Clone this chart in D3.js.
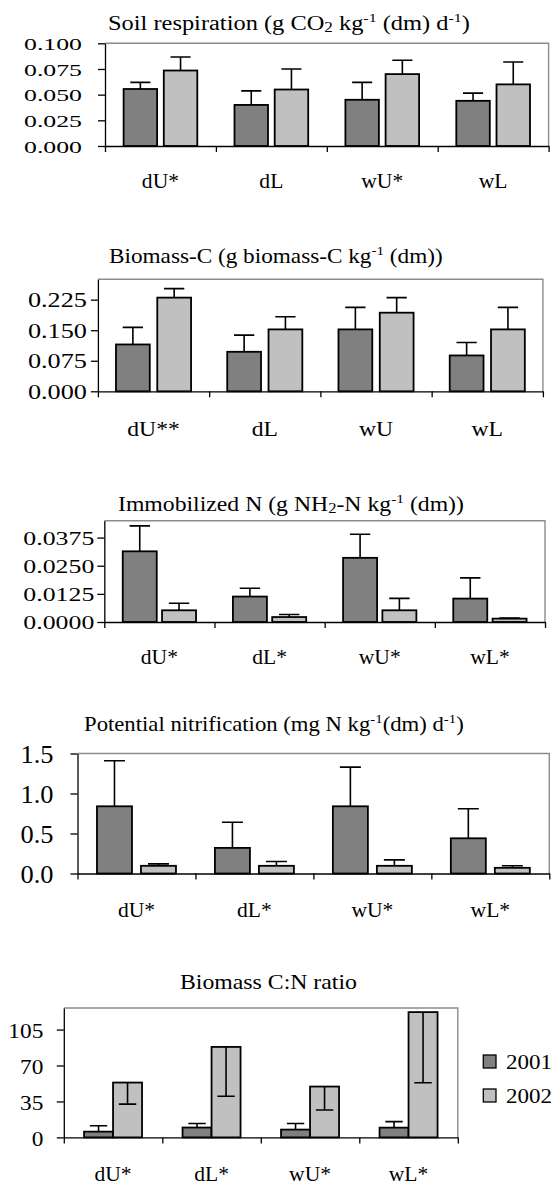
<!DOCTYPE html>
<html><head><meta charset="utf-8">
<script src="https://cdn.jsdelivr.net/npm/d3@7"></script>
<style>
body{margin:0;background:#fff}
svg{display:block}
svg text{font-family:"Liberation Serif","DejaVu Serif",serif;fill:#000}
</style>
</head><body>
<svg id="c" width="557" height="1190"></svg>
<script>
// ---------- DATA ----------
const seriesNames = ["2001", "2002"];

const respCategories = ["dU*", "dL", "wU*", "wL"];
const resp2001 = [0.0555, 0.040, 0.045, 0.044];
const resp2002 = [0.0735, 0.055, 0.070, 0.060];
const respErr2001 = [0.0065, 0.0137, 0.017, 0.0075];
const respErr2002 = [0.0132, 0.020, 0.0135, 0.0218];
const respTicks = [0, 0.025, 0.05, 0.075, 0.1];
const respMax = 0.1;

const bioCCategories = ["dU**", "dL", "wU", "wL"];
const bioC2001 = [0.115, 0.097, 0.152, 0.088];
const bioC2002 = [0.230, 0.152, 0.193, 0.152];
const bioCErr2001 = [0.042, 0.041, 0.054, 0.032];
const bioCErr2002 = [0.022, 0.031, 0.037, 0.054];
const bioCTicks = [0, 0.075, 0.15, 0.225];
const bioCMax = 0.275;

const immNCategories = ["dU*", "dL*", "wU*", "wL*"];
const immN2001 = [0.0314, 0.0113, 0.0285, 0.0104];
const immN2002 = [0.0052, 0.0022, 0.0052, 0.0015];
const immNErr2001 = [0.0113, 0.0037, 0.0105, 0.0092];
const immNErr2002 = [0.0031, 0.0011, 0.0053, 0.0003];
const immNTicks = [0, 0.0125, 0.025, 0.0375];
const immNMax = 0.045;

const nitCategories = ["dU*", "dL*", "wU*", "wL*"];
const nit2001 = [0.84, 0.32, 0.84, 0.44];
const nit2002 = [0.096, 0.096, 0.096, 0.071];
const nitErr2001 = [0.57, 0.32, 0.49, 0.37];
const nitErr2002 = [0.024, 0.054, 0.074, 0.025];
const nitTicks = [0, 0.5, 1.0, 1.5];
const nitMax = 1.5;

const cnCategories = ["dU*", "dL*", "wU*", "wL*"];
const cn2001 = [5.6, 9.6, 7.6, 9.5];
const cn2002 = [53.4, 88.1, 49.5, 122.0];
const cnErr2001 = [5.7, 4.0, 5.9, 5.9];   // drawn upward
const cnErr2002 = [21.0, 48.0, 22.8, 68.8]; // drawn downward
const cnTicks = [0, 35, 70, 105];
const cnMax = 126;

const titleResp = [["Soil respiration (g CO",""],["2","sub"],[" kg",""],["-1","sup"],[" (dm) d",""],["-1","sup"],[")",""]];
const titleBioC = [["Biomass-C (g biomass-C kg",""],["-1","sup"],[" (dm))",""]];
const titleImmN = [["Immobilized N (g NH",""],["2","sub"],["-N kg",""],["-1","sup"],[" (dm))",""]];
const titleNit  = [["Potential nitrification (mg N kg",""],["-1","sup"],["(dm) d",""],["-1","sup"],[")",""]];
const titleCN   = [["Biomass C:N ratio",""]];

const colors = ["#808080", "#c0c0c0"];

// ---------- LAYOUT ----------
const panels = [
  {title:titleResp, cats:respCategories, vals:[resp2001,resp2002], errs:[respErr2001,respErr2002], dir:[1,1],
   max:respMax, ticks:respTicks, fmt:d3.format(".3f"),
   L:105, R:548.6, T:43.3, B:146, barW:33.5, gap:6.7,
   tickFs:17, tickW:58, tickX:-23, labFs:21, labW:42, labDy:42, tx:[108,470], ty:29.5},
  {title:titleBioC, cats:bioCCategories, vals:[bioC2001,bioC2002], errs:[bioCErr2001,bioCErr2002], dir:[1,1],
   max:bioCMax, ticks:bioCTicks, fmt:d3.format(".3f"),
   L:97.9, R:542.9, T:279.3, B:391.3, barW:33.8, gap:7.5,
   tickFs:20, tickW:59, tickX:-11, labFs:21, labW:42, labDy:45, tx:[109,443], ty:263},
  {title:titleImmN, cats:immNCategories, vals:[immN2001,immN2002], errs:[immNErr2001,immNErr2002], dir:[1,1],
   max:immNMax, ticks:immNTicks, fmt:d3.format(".4f"),
   L:104.3, R:545, T:520.7, B:622, barW:34, gap:5.3,
   tickFs:19, tickW:71, tickX:-10, labFs:21, labW:42, labDy:42, tx:[118,464], ty:511},
  {title:titleNit, cats:nitCategories, vals:[nit2001,nit2002], errs:[nitErr2001,nitErr2002], dir:[1,1],
   max:nitMax, ticks:nitTicks, fmt:d3.format(".1f"),
   L:77.5, R:549.3, T:753.5, B:873.5, barW:35, gap:9,
   tickFs:26, tickW:33, tickX:-24, labFs:21, labW:42, labDy:43, tx:[84,464], ty:731},
  {title:titleCN, cats:cnCategories, vals:[cn2001,cn2002], errs:[cnErr2001,cnErr2002], dir:[1,-1],
   max:cnMax, ticks:cnTicks, fmt:d3.format("d"),
   L:63.8, R:457.8, T:1008, B:1137.4, barW:29, gap:0,
   tickFs:22, tickW:35, tickX:-20.5, labFs:21, labW:42, labDy:44, tx:[180,357], ty:989, legend:true}
];

const FONT = '"Liberation Serif","DejaVu Serif",serif';
const svg = d3.select("#c");

panels.forEach(p => {
  const g = svg.append("g");
  const y = d3.scaleLinear().domain([0, p.max]).range([p.B, p.T]);
  const x = d3.scaleBand().domain(p.cats).range([p.L, p.R]).padding(0);
  const catW = x.bandwidth();
  const pad = (catW - 2*p.barW - p.gap)/2;
  const inner = d3.scaleBand().domain(seriesNames)
     .range([pad, pad + 2*p.barW + p.gap])
     .paddingInner(p.gap/(p.barW + p.gap)).paddingOuter(0);

  g.append("path")
    .attr("d", `M${p.L},${p.T}H${p.R}V${p.B}`)
    .attr("fill","none").attr("stroke","#8c8c8c").attr("stroke-width",1.4);

  seriesNames.forEach((s, si) => {
    const vals = p.vals[si], errs = p.errs[si];
    const bx = c => x(c) + inner(s);
    const bw = inner.bandwidth();
    g.selectAll(null).data(p.cats).enter().append("rect")
      .attr("x", c => bx(c))
      .attr("y", (c,i) => y(vals[i]))
      .attr("width", bw)
      .attr("height", (c,i) => y(0) - y(vals[i]))
      .attr("fill", colors[si]).attr("stroke","#000").attr("stroke-width",1.8);
    const capW = bw*0.6;
    g.selectAll(null).data(p.cats).enter().append("path")
      .attr("d", (c,i) => {
        const cx = bx(c) + bw/2;
        const y0 = y(vals[i]);
        const y1 = y(vals[i] + p.dir[si]*errs[i]);
        return `M${cx},${y0}V${y1}M${cx-capW/2},${y1}H${cx+capW/2}`;
      })
      .attr("fill","none").attr("stroke","#000").attr("stroke-width",1.6);
  });

  // left axis
  const ya = g.append("g").attr("transform",`translate(${p.L},0)`)
    .call(d3.axisLeft(y).tickValues(p.ticks).tickFormat(p.fmt).tickSize(7).tickSizeOuter(0));
  ya.attr("font-family", FONT);
  ya.select(".domain").attr("stroke","#000").attr("stroke-width",1.3);
  ya.selectAll(".tick line").attr("stroke","#000").attr("stroke-width",1.3);
  const tt = ya.selectAll(".tick text").attr("font-size", p.tickFs).attr("x", 0).attr("dy","0.36em");
  let maxW = 0;
  tt.each(function(){ maxW = Math.max(maxW, this.getComputedTextLength()); });
  const tsx = p.tickW / maxW;
  tt.attr("x", p.tickX/tsx).attr("transform",`scale(${tsx},1)`);

  // bottom axis with boundary ticks
  const xb = d3.scaleLinear().domain([0, p.cats.length]).range([p.L, p.R]);
  const xa = g.append("g").attr("transform",`translate(0,${p.B})`)
    .call(d3.axisBottom(xb).tickValues(d3.range(p.cats.length+1)).tickFormat("").tickSize(6).tickSizeOuter(0));
  xa.select(".domain").attr("stroke","#000").attr("stroke-width",1.3);
  xa.selectAll(".tick line").attr("stroke","#000").attr("stroke-width",1.3);

  // category labels
  const labs = g.selectAll(null).data(p.cats).enter().append("text")
    .attr("text-anchor","middle")
    .attr("font-family", FONT)
    .attr("font-size", p.labFs)
    .text(c => c);
  let ref = 0;
  labs.each(function(c){ if (c.length === 3) ref = Math.max(ref, this.getComputedTextLength()); });
  if (!ref) labs.each(function(){ ref = Math.max(ref, this.getComputedTextLength()*0.8); });
  const lsx = p.labW / ref;
  labs.attr("transform", c => `translate(${x(c)+catW/2},${p.B+p.labDy}) scale(${lsx},1)`);

  // title
  const t = g.append("text").attr("font-family", FONT).attr("font-size",20).attr("x",0).attr("y",0);
  p.title.forEach(([txt, kind], k) => {
    const ts = t.append("tspan").text(txt);
    if (kind === "sup") ts.attr("font-size",13).attr("dy",-8);
    else if (kind === "sub") ts.attr("font-size",14).attr("dy",2);
    const prev = k>0 ? p.title[k-1][1] : "";
    if (kind === "" && prev === "sup") ts.attr("dy",8);
    if (kind === "" && prev === "sub") ts.attr("dy",-2);
  });
  const w = t.node().getComputedTextLength();
  const sx = (p.tx[1]-p.tx[0])/w;
  t.attr("transform",`translate(${p.tx[0]},${p.ty}) scale(${sx},1)`);

  if (p.legend) {
    const lg = svg.append("g");
    const ly = [1055, 1089];
    seriesNames.forEach((s, si) => {
      lg.append("rect").attr("x",483.3).attr("y",ly[si]).attr("width",12.7).attr("height",13)
        .attr("fill",colors[si]).attr("stroke","#000").attr("stroke-width",1.3);
      const lt = lg.append("text").attr("font-family", FONT).attr("font-size",22).text(s);
      const lw = lt.node().getComputedTextLength();
      lt.attr("transform",`translate(506,${ly[si]+14.3}) scale(${46/lw},1)`);
    });
  }
});
</script>
</body></html>
